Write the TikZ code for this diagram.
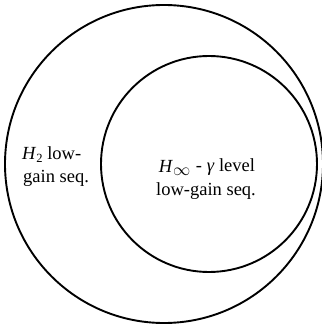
\documentclass[tikz,border=0pt]{standalone}
\usepackage{fontspec}
\setmainfont{Liberation Serif}
\begin{document}
\begin{tikzpicture}[x=1bp,y=1bp,
  ring/.style={draw=black, line width=1.9bp, circle, inner sep=0pt},
  lbl/.style={font=\fontsize{18.5bp}{22bp}\selectfont, inner sep=0pt}]
\useasboundingbox (0,0) rectangle (322,327);
\clip (0,0) rectangle (322,327);
\node[ring, minimum size=318bp] (outer) at (164,163) {};
\node[ring, minimum size=216bp] (inner) at (209,163) {};
\node[lbl, anchor=base west] (h2a) at (22,167.5) {\textit{H}\raisebox{-0.35ex}{\fontsize{12.5bp}{14bp}\selectfont 2} low-};
\node[lbl, anchor=base west] (h2b) at (23,145) {gain seq.};
\node[lbl, anchor=base] (hia) at (207,155) {\textit{H}\raisebox{-3.5bp}{$\infty$}\hspace{1bp} - \textit{γ} level};
\node[lbl, anchor=base] (hib) at (206,132) {low-gain seq.};
\end{tikzpicture}
\end{document}
